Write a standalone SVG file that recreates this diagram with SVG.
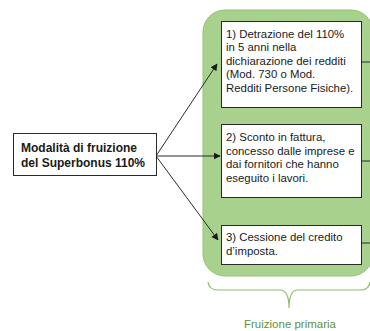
<svg xmlns="http://www.w3.org/2000/svg" width="370" height="331" viewBox="0 0 370 331">
<style>
.box{fill:#ffffff;stroke:#2b2b2b;stroke-width:1}
.t{font-family:"Liberation Sans",Arial,sans-serif;font-size:11.4px;fill:#1a1a1a}
.b{font-weight:bold;font-size:12px}
.con{stroke:#2b2b2b;stroke-width:1;fill:none}
</style>
<defs>
<marker id="ah" viewBox="0 0 10 10" refX="9" refY="5" markerWidth="7" markerHeight="7" orient="auto" markerUnits="userSpaceOnUse">
<path d="M0,0 L10,5 L0,10 z" fill="#1a1a1a"/>
</marker>
</defs>
<rect width="370" height="331" fill="#ffffff"/>
<g id="group-primary">
<rect x="203" y="10" width="170" height="266" rx="22" ry="22" fill="#a9d18e" stroke="#94c277" stroke-width="1"/>
</g>
<g id="brace">
<path d="M208,282 Q209,290 218,290 L280,290 Q289,290 289,308 Q289,290 298,290 L360,290 Q369,290 370,282" fill="none" stroke="#8dbd6e" stroke-width="1.2"/>
<text x="290" y="328" text-anchor="middle" style="font-family:'Liberation Sans',Arial,sans-serif;font-size:11.5px;fill:#5f9142">Fruizione primaria</text>
</g>
<g id="connectors">
<line class="con" x1="156" y1="156" x2="217" y2="64" marker-end="url(#ah)"/>
<line class="con" x1="156" y1="156" x2="220" y2="156" marker-end="url(#ah)"/>
<line class="con" x1="156" y1="156" x2="218" y2="240" marker-end="url(#ah)"/>
<line class="con" x1="361" y1="62" x2="370" y2="62"/>
<line class="con" x1="361" y1="161" x2="370" y2="161"/>
<line class="con" x1="361" y1="243" x2="370" y2="243"/>
</g>
<g id="node-source">
<rect class="box" x="13.5" y="133.5" width="143" height="42"/>
<text class="t b" x="21" y="152">Modalità di fruizione</text>
<text class="t b" x="21" y="167">del Superbonus 110%</text>
</g>
<g id="node-1">
<rect class="box" x="221.5" y="21.5" width="140" height="86"/>
<text class="t" x="226" y="37.5">1) Detrazione del 110%</text>
<text class="t" x="226" y="51">in 5 anni nella</text>
<text class="t" x="226" y="64.5">dichiarazione dei redditi</text>
<text class="t" x="226" y="78">(Mod. 730 o Mod.</text>
<text class="t" x="226" y="91.5">Redditi Persone Fisiche).</text>
</g>
<g id="node-2">
<rect class="box" x="221.5" y="124.5" width="140" height="73"/>
<text class="t" x="226" y="141">2) Sconto in fattura,</text>
<text class="t" x="226" y="154.5">concesso dalle imprese e</text>
<text class="t" x="226" y="168">dai fornitori che hanno</text>
<text class="t" x="226" y="181.5">eseguito i lavori.</text>
</g>
<g id="node-3">
<rect class="box" x="221.5" y="225.5" width="140" height="39"/>
<text class="t" x="226" y="241">3) Cessione del credito</text>
<text class="t" x="226" y="254.5">d’imposta.</text>
</g>
</svg>
